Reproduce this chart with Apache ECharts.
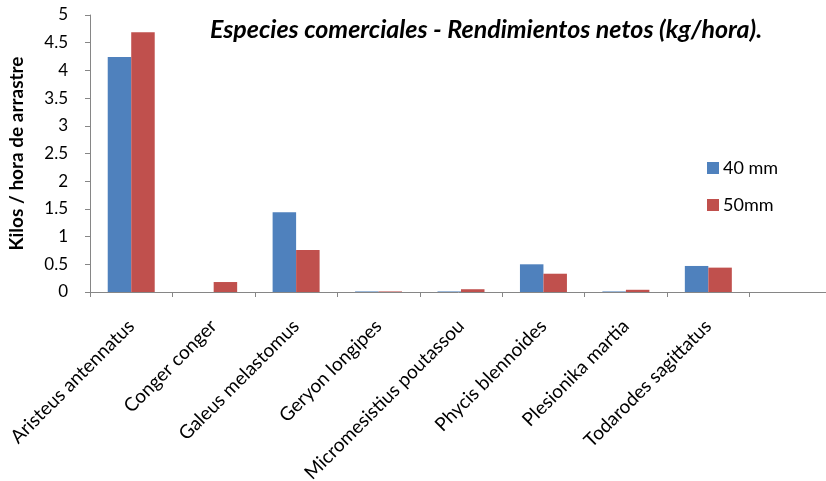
<!DOCTYPE html>
<html>
<head>
<meta charset="utf-8">
<script src="https://cdn.jsdelivr.net/npm/echarts@6/dist/echarts.min.js"></script>
<style>html,body{margin:0;padding:0;background:#fff}#c{width:826px;height:481px}</style>
</head>
<body>
<div id="c"></div>
<script>
const categories = ["Aristeus antennatus","Conger conger","Galeus melastomus","Geryon longipes","Micromesistius poutassou","Phycis blennoides","Plesionika martia","Todarodes sagittatus",""];
const mm40 = [4.24, 0, 1.44, 0.01, 0.01, 0.50, 0.01, 0.47, null];
const mm50 = [4.69, 0.18, 0.76, 0.01, 0.05, 0.33, 0.04, 0.44, null];
const seriesNames = ["40 mm", "50mm"];
const FONT = "Lato";
const chart = echarts.init(document.getElementById('c'), null, {renderer: 'canvas'});
chart.setOption({
  animation: false,
  backgroundColor: '#fff',
  title: {
    text: 'Especies comerciales - Rendimientos netos (kg/hora).',
    left: 481, top: 12, textAlign: 'center',
    textStyle: {fontFamily: FONT, fontStyle: 'italic', fontWeight: 'bold', fontSize: 25, color: '#000'}
  },
  legend: {
    orient: 'vertical', left: 702, top: 154, itemWidth: 12, itemHeight: 12, itemGap: 19,
    icon: 'rect',
    textStyle: {fontFamily: FONT, fontSize: 18, color: '#000', padding: [0, 0, 0, -1]},
    data: seriesNames
  },
  grid: {left: 90, top: 15, width: 742, height: 277, containLabel: false, outerBoundsMode: 'none'},
  xAxis: {
    type: 'category', data: categories,
    axisLine: {lineStyle: {color: '#868686', width: 1}},
    axisTick: {show: true, length: 5, lineStyle: {color: '#868686'}},
    axisLabel: {rotate: 45, interval: 0, margin: 31, fontFamily: FONT, fontSize: 19, color: '#000'}
  },
  yAxis: {
    type: 'value', min: 0, max: 5, interval: 0.5,
    name: 'Kilos / hora de arrastre', nameLocation: 'middle', nameGap: 64, nameRotate: 90,
    nameTextStyle: {fontFamily: FONT, fontWeight: 'bold', fontSize: 19, color: '#000'},
    axisLine: {show: true, lineStyle: {color: '#868686'}},
    axisTick: {show: true, length: 5, lineStyle: {color: '#868686'}},
    splitLine: {show: false},
    axisLabel: {fontFamily: FONT, fontSize: 17, color: '#000', margin: 22}
  },
  series: [
    {name: seriesNames[0], type: 'bar', data: mm40, barGap: '0%', barCategoryGap: '43%',
     itemStyle: {color: '#4F81BD'}},
    {name: seriesNames[1], type: 'bar', data: mm50, barGap: '0%', barCategoryGap: '43%',
     itemStyle: {color: '#C0504D'}}
  ]
});
</script>
</body>
</html>
